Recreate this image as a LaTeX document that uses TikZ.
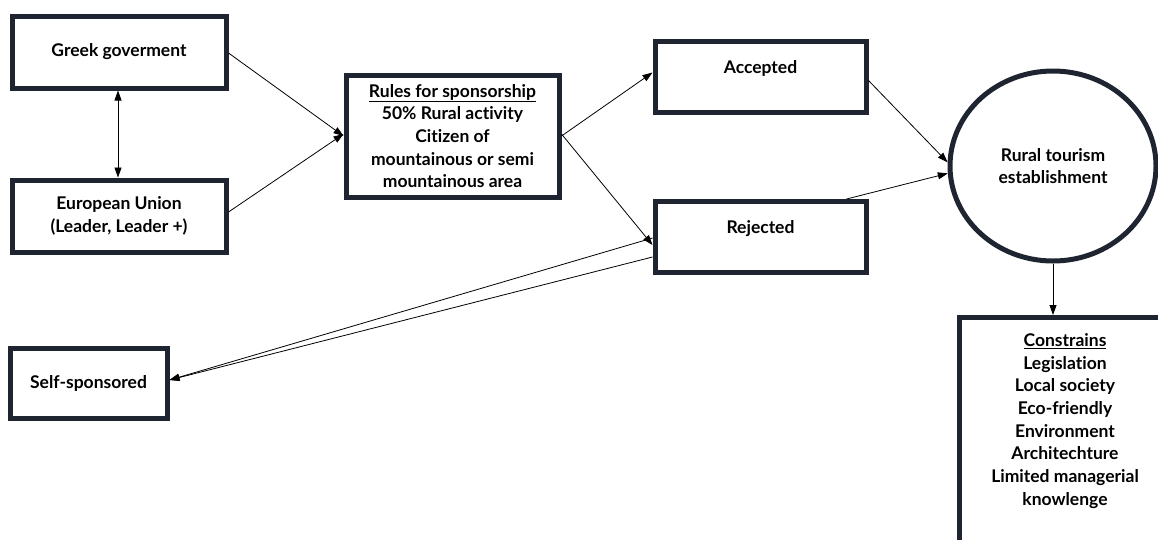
\documentclass[tikz,border=0pt]{standalone}
\usepackage{fontspec}
\setmainfont[Ligatures=CommonOff]{Lato}
\usetikzlibrary{shapes.geometric,arrows.meta}
\definecolor{frame}{HTML}{1F2530}
\tikzset{
  box/.style={draw=frame, line width=5pt, rectangle, align=center, inner sep=2pt,
    font=\fontsize{17.5}{22.7}\selectfont\bfseries},
  conn/.style={line width=0.8pt, -{Triangle[length=10pt,width=7pt]}},
  biconn/.style={line width=0.8pt, {Triangle[length=10pt,width=7pt]}-{Triangle[length=10pt,width=7pt]}}
}
\begin{document}
\begin{tikzpicture}[x=1pt,y=-1pt]
\useasboundingbox (0,0) rectangle (1158,539);
\node[box, minimum width=214, minimum height=72] (greek) at (119,52) {Greek goverment};
\node[box, minimum width=214, minimum height=72] (eu) at (119,216) {European Union\\(Leader, Leader +)};
\node[box, minimum width=213, minimum height=122] (rules) at (452.5,136) {\underline{Rules for sponsorship}\\50\% Rural activity\\Citizen of\\mountainous or semi\\mountainous area};
\node[box, minimum width=211, minimum height=71, text depth=20pt] (acc) at (760.5,76.5) {Accepted};
\node[box, minimum width=211, minimum height=71, text depth=20pt] (rej) at (760.5,237) {Rejected};
\node[box, minimum width=157, minimum height=70] (self) at (88.5,383) {Self-sponsored};
\node[box, ellipse, minimum width=206, minimum height=190, inner sep=0pt] (ell) at (1053,166) {Rural tourism\\establishment};
\node[box, minimum width=230, minimum height=300, anchor=north west] (constr) at (957,315) {};
\node[box, draw=none, anchor=north] (constrtext) at (1065,329) {\underline{Constrains}\\Legislation\\Local society\\Eco-friendly\\Environment\\Architechture\\Limited managerial\\knowlenge};
\draw[biconn] (greek.south) ++(-1,0) coordinate (gs) (gs) -- (gs |- eu.north);
\draw[conn] (greek.east) ++(0,1) -- (rules.west);
\draw[conn] (eu.east) ++(0,-4) -- ([yshift=2pt]rules.west);
\draw[conn] (rules.east) -- ([yshift=4pt]acc.west);
\draw[conn] ([yshift=2pt]rules.east) -- ([yshift=-8pt]rej.west);
\draw[conn] ([yshift=-4pt]acc.east) -- (ell.178);
\draw[conn] ([xshift=-22pt]rej.north east) -- (ell.184);
\draw[conn] (ell.south) -- (ell.south |- constr.north);
\draw[conn] ([yshift=-1pt]rej.west) -- ([yshift=3pt]self.east);
\draw[conn] ([yshift=-20pt]rej.west) -- ([yshift=3pt]self.east);
\end{tikzpicture}
\end{document}
